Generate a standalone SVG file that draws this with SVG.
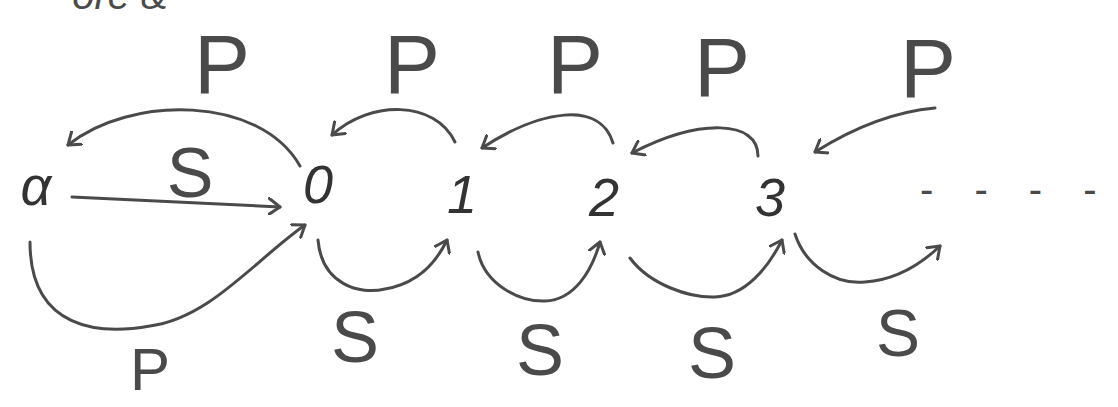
<svg xmlns="http://www.w3.org/2000/svg" width="1118" height="407" viewBox="0 0 1118 407">
<style>
.c{fill:none;stroke:#4a4a4a;stroke-width:3;stroke-linecap:round;stroke-linejoin:round}
.lbl{font-family:"Liberation Sans",Arial,sans-serif;fill:#4a4a4a;text-anchor:middle}
.big{font-size:84px}
.node{font-family:"Liberation Sans",Arial,sans-serif;font-style:italic;fill:#333;text-anchor:middle;font-size:54px}
</style>
<defs>
<marker id="ah" viewBox="-12 -9 14 18" markerWidth="14" markerHeight="18" refX="0" refY="0" orient="auto" markerUnits="userSpaceOnUse">
<path d="M-11,-8 L0,0 L-11,8" fill="none" stroke="#4a4a4a" stroke-width="3" stroke-linecap="round" stroke-linejoin="round"/>
</marker>
</defs>
<text class="lbl" x="120" y="9" font-size="40" font-style="italic">ore &amp;</text>
<g id="nodes">
<g id="n-alpha"><text class="node" x="36" y="205" font-size="60">α</text></g>
<g id="n-0"><text class="node" x="318" y="203">0</text></g>
<g id="n-1"><text class="node" x="462" y="213">1</text></g>
<g id="n-2"><text class="node" x="604" y="216">2</text></g>
<g id="n-3"><text class="node" x="770" y="216">3</text></g>
<g id="n-more"><text class="lbl" x="920" y="203" font-size="40" letter-spacing="15" style="text-anchor:start">- - - -</text></g>
</g>
<g id="connectors">
<path class="c" marker-end="url(#ah)" d="M300,166 C260,95 130,95 68,145"/>
<path class="c" marker-end="url(#ah)" d="M72,197 L280,207"/>
<path class="c" marker-end="url(#ah)" d="M30,242 C30,330 100,335 150,326 C210,318 255,260 305,225"/>
<path class="c" marker-end="url(#ah)" d="M455,142 C435,100 370,100 332,135"/>
<path class="c" marker-end="url(#ah)" d="M613,143 C600,100 540,110 482,148"/>
<path class="c" marker-end="url(#ah)" d="M758,156 C758,120 700,118 632,153"/>
<path class="c" marker-end="url(#ah)" d="M935,108 C890,112 850,130 815,152"/>
<path class="c" marker-end="url(#ah)" d="M318,240 C322,285 360,295 385,289 C415,284 435,265 447,240"/>
<path class="c" marker-end="url(#ah)" d="M478,252 C485,285 520,302 545,301 C575,300 592,270 600,242"/>
<path class="c" marker-end="url(#ah)" d="M630,258 C650,285 690,298 715,297 C745,296 768,268 782,240"/>
<path class="c" marker-end="url(#ah)" d="M795,234 C805,265 835,285 865,282 C895,280 920,265 940,246"/>
</g>
<g id="labels">
<text class="lbl big" x="222" y="93">P</text>
<text class="lbl" x="190" y="197" font-size="70">S</text>
<text class="lbl big" x="412" y="93">P</text>
<text class="lbl big" x="575" y="93">P</text>
<text class="lbl big" x="722" y="96">P</text>
<text class="lbl big" x="928" y="97">P</text>
<text class="lbl" x="150" y="390" font-size="60">P</text>
<text class="lbl" x="355" y="362" font-size="72">S</text>
<text class="lbl" x="540" y="375" font-size="72">S</text>
<text class="lbl" x="712" y="378" font-size="72">S</text>
<text class="lbl" x="898" y="356" font-size="66">S</text>
</g>
</svg>
